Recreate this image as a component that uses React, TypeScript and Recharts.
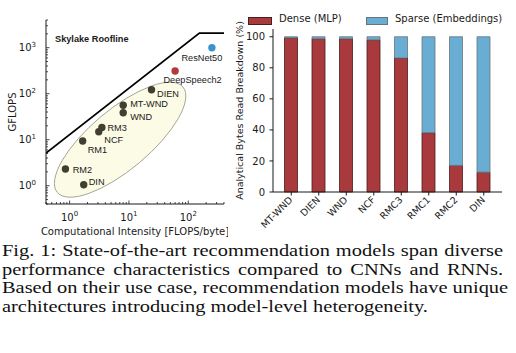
import React from 'react';
import {
  ComposedChart,
  BarChart,
  Bar,
  Scatter,
  Line,
  XAxis,
  YAxis,
  Legend,
  Label,
} from 'recharts';

// left panel: roofline scatter (log-log)
const recModels = [
  { name: 'DIEN', x: 24, y: 122 },
  { name: 'MT-WND', x: 8.0, y: 56 },
  { name: 'WND', x: 8.0, y: 38.6 },
  { name: 'RM3', x: 3.5, y: 18.5 },
  { name: 'NCF', x: 3.1, y: 14.9 },
  { name: 'RM1', x: 1.66, y: 9.4 },
  { name: 'RM2', x: 0.85, y: 2.3 },
  { name: 'DIN', x: 1.73, y: 1.05 },
];
const rnnModels = [{ name: 'DeepSpeech2', x: 60, y: 312 }];
const cnnModels = [{ name: 'ResNet50', x: 250, y: 1000 }];
const roofline = [
  { x: 0.4, y: 5.1 },
  { x: 154, y: 2075 },
  { x: 400, y: 2075 },
];
const recCluster = [{ x: 7.1, y: 10 }];

const xMajor = [1, 10, 100];
const xTicks = [0.4, 0.5, 0.6, 0.7, 0.8, 0.9, 1, 2, 3, 4, 5, 6, 7, 8, 9, 10, 20, 30, 40, 50, 60, 70, 80, 90, 100, 200, 300, 400];
const yMajor = [1, 10, 100, 1000];
const yTicks = [0.4, 0.5, 0.6, 0.7, 0.8, 0.9, 1, 2, 3, 4, 5, 6, 7, 8, 9, 10, 20, 30, 40, 50, 60, 70, 80, 90, 100, 200, 300, 400, 500, 600, 700, 800, 900, 1000, 2000, 3000, 4000];

// right panel: stacked bytes breakdown
const models = ['MT-WND', 'DIEN', 'WND', 'NCF', 'RMC3', 'RMC1', 'RMC2', 'DIN'];
const denseShare = [99.3, 98.7, 98.7, 98.0, 86.3, 38.2, 17.1, 12.8];
const sparseShare = [0.7, 1.3, 1.3, 2.0, 13.7, 61.8, 82.9, 87.2];
const pctTicks = [0, 20, 40, 60, 80, 100];

const captionLines = [
  'Fig. 1: State-of-the-art recommendation models span diverse',
  'performance characteristics compared to CNNs and RNNs.',
  'Based on their use case, recommendation models have unique',
  'architectures introducing model-level heterogeneity.',
];

const breakdown = models.map((name, i) => ({
  name,
  dense: denseShare[i],
  sparse: sparseShare[i],
}));

const SANS = 'DejaVu Sans';
const HELV = 'Liberation Sans';
const INK = '#1a1a1a';
const RED = '#a83a3e';
const BLUE = '#6aadd3';
const TM = 6; // tick margin used by the custom log ticks

// label placement next to each point (px)
const labelOffset: Record<string, [number, number, string]> = {
  DIEN: [5.5, 4, 'start'],
  'MT-WND': [7, -2, 'start'],
  WND: [7, 4.4, 'start'],
  RM3: [5.5, 0, 'start'],
  NCF: [5.5, 8, 'start'],
  RM1: [5, 8.7, 'start'],
  RM2: [7.3, 1, 'start'],
  DIN: [5, -2.6, 'start'],
  DeepSpeech2: [17.5, 8.7, 'middle'],
  ResNet50: [-10, 10, 'middle'],
};

const exp = (v: number) => String(Math.round(Math.log10(v)));

const LogXTick = (props: any) => {
  const { x, y, payload } = props;
  const major = xMajor.includes(payload.value);
  const ay = y - TM;
  return (
    <g>
      <line x1={x} x2={x} y1={ay} y2={ay - (major ? 3.5 : 2)} stroke={INK} strokeWidth={0.8} />
      {major && (
        <text x={x} y={ay + 16.5} textAnchor="middle" fontFamily={SANS} fontSize={10} fill={INK}>
          10<tspan dy={-4.5} fontSize={7}>{exp(payload.value)}</tspan>
        </text>
      )}
    </g>
  );
};

const LogYTick = (props: any) => {
  const { x, y, payload } = props;
  const major = yMajor.includes(payload.value);
  const ax = x + TM;
  return (
    <g>
      <line x1={ax} x2={ax + (major ? 3.5 : 2)} y1={y} y2={y} stroke={INK} strokeWidth={0.8} />
      {major && (
        <text x={ax - 10} y={y + 3.6} textAnchor="end" fontFamily={SANS} fontSize={10} fill={INK}>
          10<tspan dy={-4.5} fontSize={7}>{exp(payload.value)}</tspan>
        </text>
      )}
    </g>
  );
};

const makeDot = (fill: string) => (props: any) => {
  const { cx, cy, payload } = props;
  const [dx, dy, anchor] = labelOffset[payload.name] || [6, 0, 'start'];
  return (
    <g>
      <circle cx={cx} cy={cy} r={3.7} fill={fill} />
      <text
        x={cx + dx}
        y={cy + dy + 3.3}
        textAnchor={anchor as any}
        fontFamily={HELV}
        fontSize={9.2}
        fill={INK}
      >
        {payload.name}
      </text>
    </g>
  );
};

const ClusterShape = (props: any) => {
  const { cx, cy } = props;
  return (
    <ellipse
      cx={cx}
      cy={cy}
      rx={82}
      ry={30}
      transform={`rotate(-40 ${cx} ${cy})`}
      fill="#fcfbe5"
      stroke="#a3a293"
      strokeWidth={0.9}
    />
  );
};

const BarTick = (props: any) => {
  const { x, y, payload } = props;
  return (
    <text
      x={x + 2}
      y={y + 3}
      transform={`rotate(-45 ${x + 2} ${y + 3})`}
      textAnchor="end"
      fontFamily={SANS}
      fontSize={9.5}
      fill={INK}
    >
      {payload.value}
    </text>
  );
};

const LegendBox = () => (
  <div style={{ position: 'relative', height: 14, fontFamily: SANS, fontSize: 10, color: INK }}>
    <div style={{ position: 'absolute', left: 0, top: 4, width: 22, height: 6, background: RED, border: '0.8px solid #4a1c1c' }} />
    <span style={{ position: 'absolute', left: 31, top: 0, whiteSpace: 'nowrap' }}>Dense (MLP)</span>
    <div style={{ position: 'absolute', left: 118, top: 4, width: 20, height: 6, background: BLUE, border: '0.8px solid #66757c' }} />
    <span style={{ position: 'absolute', left: 147, top: 0, whiteSpace: 'nowrap' }}>Sparse (Embeddings)</span>
  </div>
);

const RooflinePanel = () => (
  <ComposedChart width={228} height={240} margin={{ top: 20, right: 4, bottom: 0, left: 0 }}>
    <XAxis
      dataKey="x"
      type="number"
      scale="log"
      domain={[0.4, 400]}
      allowDataOverflow
      ticks={xTicks}
      interval={0}
      tickSize={0}
      tickMargin={TM}
      tick={<LogXTick />}
      axisLine={{ stroke: INK, strokeWidth: 1 }}
      height={36}
    >
      <Label
        value="Computational Intensity [FLOPS/byte]"
        position="insideBottom"
        offset={5}
        style={{ fontFamily: SANS, fontSize: 10, fill: INK }}
      />
    </XAxis>
    <YAxis
      dataKey="y"
      type="number"
      scale="log"
      domain={[0.4, 4000]}
      allowDataOverflow
      ticks={yTicks}
      interval={0}
      tickSize={0}
      tickMargin={TM}
      tick={<LogYTick />}
      axisLine={{ stroke: INK, strokeWidth: 1 }}
      width={46}
    >
      <Label
        value="GFLOPS"
        angle={-90}
        position="insideLeft"
        offset={12}
        style={{ fontFamily: SANS, fontSize: 10, fill: INK, textAnchor: 'middle' }}
      />
    </YAxis>
    <Scatter data={recCluster} shape={<ClusterShape />} isAnimationActive={false} />
    <Line
      data={roofline}
      dataKey="y"
      type="linear"
      dot={false}
      stroke="#000"
      strokeWidth={1.8}
      isAnimationActive={false}
    />
    <Scatter data={recModels} shape={makeDot('#403f31')} isAnimationActive={false} />
    <Scatter data={rnnModels} shape={makeDot('#b23a3d')} isAnimationActive={false} />
    <Scatter data={cnnModels} shape={makeDot('#3b93cc')} isAnimationActive={false} />
    <text x={55} y={42} fontFamily={HELV} fontWeight="bold" fontSize={9.2} fill={INK}>
      Skylake Roofline
    </text>
  </ComposedChart>
);

const BreakdownPanel = () => (
  <BarChart
    width={288}
    height={240}
    data={breakdown}
    margin={{ top: 29, right: 14, bottom: 0, left: 0 }}
  >
    <XAxis
      dataKey="name"
      padding={{ left: 4.5, right: 4.5 }}
      tick={<BarTick />}
      tickSize={3.5}
      tickMargin={2}
      interval={0}
      tickLine={{ stroke: INK }}
      axisLine={{ stroke: INK, strokeWidth: 1 }}
      height={48}
    />
    <XAxis xAxisId="top" orientation="top" dataKey="name" tick={false} tickLine={false} height={0} axisLine={{ stroke: INK, strokeWidth: 1 }} />
    <YAxis
      type="number"
      domain={[0, 105]}
      ticks={pctTicks}
      tickSize={3.5}
      tickMargin={4.5}
      tickLine={{ stroke: INK }}
      axisLine={{ stroke: INK, strokeWidth: 1 }}
      tick={{ fontFamily: SANS, fontSize: 10, fill: INK }}
      width={45}
    >
      <Label
        value="Analytical Bytes Read Breakdown (%)"
        angle={-90}
        position="insideLeft"
        offset={12}
        style={{ fontFamily: SANS, fontSize: 9.5, fill: INK, textAnchor: 'middle' }}
      />
    </YAxis>
    <YAxis yAxisId="right" orientation="right" tick={false} tickLine={false} width={0} axisLine={{ stroke: INK, strokeWidth: 1 }} />
    <Legend
      layout="horizontal"
      verticalAlign="middle"
      align="center"
      content={<LegendBox />}
      wrapperStyle={{ top: 13, left: 20, width: 268, height: 14 }}
    />
    <Bar dataKey="dense" stackId="s" barSize={13} fill={RED} stroke="#4a1c1c" strokeWidth={0.8} isAnimationActive={false} />
    <Bar dataKey="sparse" stackId="s" barSize={13} fill={BLUE} stroke="#66757c" strokeWidth={0.8} isAnimationActive={false} />
  </BarChart>
);

export default function App() {
  return (
    <div style={{ position: 'absolute', left: 0, top: 0, width: 516, height: 353, background: '#fff' }}>
      <div style={{ position: 'absolute', left: 0, top: 0 }}>
        <RooflinePanel />
      </div>
      <div style={{ position: 'absolute', left: 228, top: 0 }}>
        <BreakdownPanel />
      </div>
      <div
        style={{
          position: 'absolute',
          left: 2,
          top: 241,
          width: 432,
          transform: 'scaleX(1.16)',
          transformOrigin: '0 0',
          fontFamily: '"Liberation Serif", serif',
          fontSize: 17.6,
          lineHeight: '18.7px',
          color: '#111',
        }}
      >
        {captionLines.map((line, i) => (
          <div
            key={i}
            style={{
              textAlign: 'justify',
              textAlignLast: i < captionLines.length - 1 ? 'justify' : 'left',
              whiteSpace: 'nowrap',
            }}
          >
            {line}
          </div>
        ))}
      </div>
    </div>
  );
}
